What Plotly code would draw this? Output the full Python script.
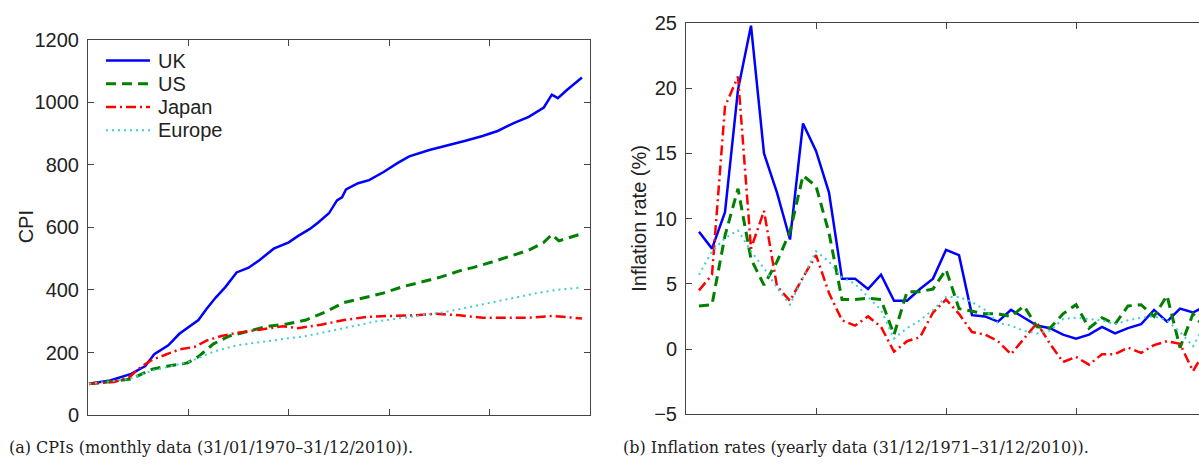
import plotly.graph_objects as go

# ---------------- Panel (a): CPI, monthly index (1 = Jan 1970 ... 492 = Dec 2010)
uk_idx = [1, 22, 43, 57, 66, 80, 91, 102, 110, 118, 127, 137, 148, 160, 171, 185, 200, 209,
          221, 229, 240, 248, 253, 257, 269, 280, 294, 309, 320, 340, 359, 376, 393, 408,
          424, 439, 454, 462, 468, 477, 492]
uk_cpi = [100, 111, 132, 157, 195, 223, 260, 284, 304, 339, 375, 410, 456, 471, 496, 532, 552, 572,
          595, 615, 645, 686, 696, 721, 741, 751, 776, 807, 827, 847, 862, 877, 892, 908,
          933, 953, 983, 1024, 1013, 1039, 1079]

us_idx = [1, 26, 43, 64, 80, 99, 110, 125, 141, 160, 179, 198, 217, 236, 255, 275, 294, 313,
          332, 351, 370, 385, 404, 419, 439, 454, 462, 469, 492]
us_cpi = [100, 108, 116, 147, 157, 167, 187, 228, 253, 268, 284, 291, 304, 329, 360, 375, 390, 410,
          425, 441, 461, 473, 491, 506, 527, 552, 577, 557, 580]

jp_idx = [1, 26, 41, 53, 64, 80, 91, 106, 118, 133, 148, 171, 194, 209, 232, 255, 278, 301,
          324, 347, 370, 393, 416, 439, 462, 492]
jp_cpi = [100, 106, 121, 155, 177, 197, 210, 218, 238, 253, 263, 273, 284, 278, 289, 304, 314, 317,
          319, 324, 319, 311, 311, 311, 317, 309]

eu_idx = [1, 41, 64, 83, 102, 125, 148, 171, 194, 217, 240, 263, 286, 309, 332, 355, 378, 401,
          424, 447, 466, 492]
eu_cpi = [100, 116, 142, 157, 172, 203, 223, 233, 243, 253, 268, 284, 299, 309, 319, 329, 344, 360,
          375, 390, 400, 408]

# ---------------- Panel (b): yearly inflation rates (%), 1971 ... 2010
years = list(range(1971, 2011))
uk_inf = [9.0, 7.7, 10.5, 19.9, 24.8, 15.0, 12.0, 8.4, 17.3, 15.2, 12.0, 5.4, 5.4, 4.6, 5.7,
          3.7, 3.7, 4.6, 5.4, 7.6, 7.2, 2.6, 2.5, 2.1, 3.0, 2.4, 1.8, 1.6, 1.1, 0.8,
          1.1, 1.7, 1.2, 1.6, 1.9, 3.0, 2.1, 3.1, 2.8, 3.3]
us_inf = [3.3, 3.4, 8.7, 12.3, 6.9, 4.9, 6.7, 9.0, 13.3, 12.5, 8.9, 3.8, 3.8, 3.9, 3.8,
          1.1, 4.4, 4.4, 4.6, 6.1, 3.1, 2.9, 2.7, 2.7, 2.5, 3.3, 1.7, 1.6, 2.7, 3.4,
          1.6, 2.4, 1.9, 3.3, 3.4, 2.5, 4.1, 0.1, 2.7, 1.5]
jp_inf = [4.5, 5.7, 18.6, 20.9, 7.7, 10.6, 4.8, 3.7, 5.5, 7.2, 4.3, 2.2, 1.8, 2.5, 1.7,
          -0.2, 0.6, 0.9, 2.8, 3.8, 2.7, 1.3, 1.1, 0.6, -0.4, 0.8, 2.0, 0.4, -1.0, -0.6,
          -1.2, -0.4, -0.4, 0.1, -0.3, 0.3, 0.6, 0.4, -1.7, 0.0]
eu_inf = [5.7, 7.5, 8.5, 9.1, 7.5, 6.2, 4.7, 3.4, 5.5, 7.5, 6.7, 5.5, 5.0, 4.0, 3.0,
          0.8, 1.6, 2.2, 3.0, 4.0, 4.0, 3.6, 3.0, 2.0, 1.8, 1.4, 1.2, 1.4, 2.3, 2.4,
          2.3, 2.2, 1.9, 2.2, 2.4, 2.5, 2.2, 1.3, 0.2, 2.0]
year_idx = [y - 1970 for y in years]

series_names = ["UK", "US", "Japan", "Europe"]

# ---------------- styles
BLUE, GREEN, RED, CYAN = "#0000ff", "#008000", "#ff0000", "#3fcfcf"
STYLES = {
    "UK": dict(color=BLUE, width=2.5, dash="solid"),
    "US": dict(color=GREEN, width=3, dash="10px,6px"),
    "Japan": dict(color=RED, width=2.5, dash="10px,4px,2px,4px"),
    "Europe": dict(color=CYAN, width=2, dash="2px,4px"),
}
AX = "#444444"
SANS = "Liberation Sans, Arial, sans-serif"
TICKFONT = dict(family=SANS, size=20, color="#222222")

fig = go.Figure()

panel_a = {"UK": (uk_idx, uk_cpi), "US": (us_idx, us_cpi),
           "Japan": (jp_idx, jp_cpi), "Europe": (eu_idx, eu_cpi)}
panel_b = {"UK": uk_inf, "US": us_inf, "Japan": jp_inf, "Europe": eu_inf}

for name in series_names:
    xv, yv = panel_a[name]
    fig.add_trace(go.Scatter(x=xv, y=yv, name=name, mode="lines", line=STYLES[name],
                             xaxis="x", yaxis="y", showlegend=False))
for name in series_names:
    fig.add_trace(go.Scatter(x=year_idx, y=panel_b[name], name=name, mode="lines",
                             line=STYLES[name], xaxis="x2", yaxis="y2", showlegend=False))

W, H = 1199, 470
def px(x):
    return x / W
def py(y):
    return (H - y) / H

common = dict(showline=True, linecolor=AX, linewidth=1, ticks="inside", ticklen=6,
              tickcolor=AX, showgrid=False, zeroline=False, tickfont=TICKFONT)

fig.update_layout(
    width=W, height=H,
    margin=dict(l=0, r=0, t=0, b=0),
    paper_bgcolor="white", plot_bgcolor="white",
    showlegend=False,
    xaxis=dict(domain=[px(88), px(590)], range=[0, 500], tickvals=[100, 200, 300, 400],
               showticklabels=False, mirror="ticks", anchor="y", **common),
    yaxis=dict(domain=[py(424), py(30)], range=[0, 1200], tickvals=[0, 200, 400, 600, 800, 1000, 1200],
               mirror="ticks", anchor="x", ticklabelstandoff=4, **common),
    xaxis2=dict(domain=[px(686), 1.0], range=[0, 39.46], tickvals=[10, 20, 30, 40],
                showticklabels=False, mirror="ticks", anchor="y2", **common),
    yaxis2=dict(domain=[py(423), py(12.7)], range=[-5, 25], tickvals=[-5, 0, 5, 10, 15, 20, 25],
                mirror=False, anchor="x2", ticklabelstandoff=4, **common),
)

# legend (inside panel a, top-left)
LEG_X0, LEG_X1, LEG_TX, LEG_Y0, LEG_DY = 106, 150, 156, 52, 24.4
for i, name in enumerate(series_names):
    yrow = LEG_Y0 + i * LEG_DY
    st = STYLES[name]
    fig.add_shape(type="line", xref="paper", yref="paper",
                  x0=px(LEG_X0), x1=px(LEG_X1), y0=py(yrow), y1=py(yrow),
                  line=dict(color=st["color"], width=st["width"], dash=st["dash"]))
    fig.add_annotation(text=name, x=px(LEG_TX), y=py(yrow), xref="paper", yref="paper",
                       xanchor="left", yanchor="middle", showarrow=False,
                       font=dict(family=SANS, size=20, color="#222222"))

LABELFONT = dict(family=SANS, size=20, color="#222222")
CAPFONT = dict(family="DejaVu Serif, serif", size=16, color="#222222")
fig.add_annotation(text="CPI", x=px(26), y=py(227), xref="paper", yref="paper",
                   xanchor="center", yanchor="middle",
                   textangle=-90, showarrow=False, font=LABELFONT)
fig.add_annotation(text="Inflation rate (%)", x=px(639), y=py(218), xref="paper", yref="paper",
                   xanchor="center", yanchor="middle",
                   textangle=-90, showarrow=False, font=LABELFONT)
fig.add_annotation(text="(a) CPIs (monthly data (31/01/1970–31/12/2010)).", x=px(7), y=py(458),
                   xref="paper", yref="paper", xanchor="left", yanchor="middle",
                   showarrow=False, font=CAPFONT)
fig.add_annotation(text="(b) Inflation rates (yearly data (31/12/1971–31/12/2010)).", x=px(621), y=py(458),
                   xref="paper", yref="paper", xanchor="left", yanchor="middle",
                   showarrow=False, font=CAPFONT)

fig.write_html("out.html")
